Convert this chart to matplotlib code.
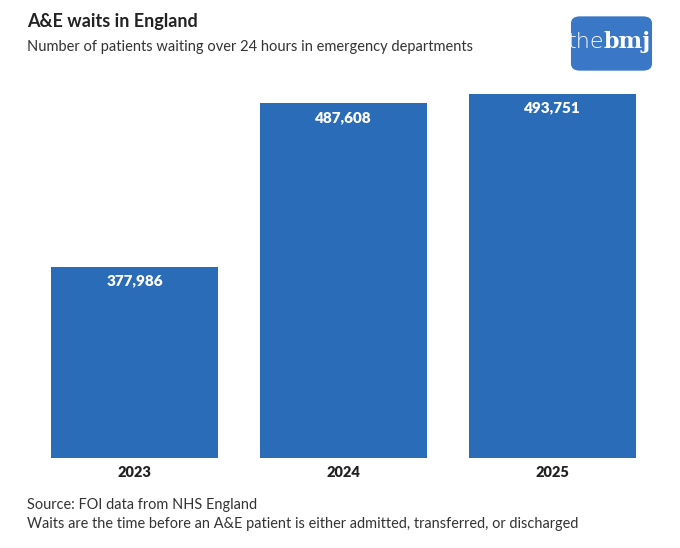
import matplotlib
matplotlib.use("Agg")
import matplotlib.pyplot as plt
from matplotlib.patches import FancyBboxPatch

years = ["2023", "2024", "2025"]
patients = [377986, 487608, 493751]

title = "A&E waits in England"
subtitle = "Number of patients waiting over 24 hours in emergency departments"
source = "Source: FOI data from NHS England"
note = "Waits are the time before an A&E patient is either admitted, transferred, or discharged"

bar_colour = "#2b6cb9"
logo_colour = "#3a77c6"

plt.rcParams["font.family"] = ["Lato", "DejaVu Sans"]

W, H = 680, 548
fig = plt.figure(figsize=(W / 100, H / 100), dpi=100)
fig.patch.set_facecolor("white")

# axes placed in pixel terms: x 30..657, y 85..458 (from top)
ax = fig.add_axes([30 / W, 1 - 458 / H, 627 / W, (458 - 85) / H])
x = range(len(years))
bars = ax.bar(x, patients, width=0.8, color=bar_colour)
ax.set_xlim(-0.5, len(years) - 0.5)
ax.set_ylim(250000, 500000)

for b, v in zip(bars, patients):
    ax.annotate(f"{v:,}", (b.get_x() + b.get_width() / 2, v),
                xytext=(0, -10), textcoords="offset points",
                ha="center", va="center", color="white",
                fontsize=11, fontweight="heavy")

ax.set_xticks(list(x))
ax.set_xticklabels(years, fontsize=10.5, fontweight="heavy", color="#222222")
ax.tick_params(axis="x", length=0, pad=6)
ax.set_yticks([])
for s in ax.spines.values():
    s.set_visible(False)

# header
fig.text(27 / W, 1 - 22 / H, title, fontsize=13, fontweight="bold",
         color="#222222", va="center", ha="left")
fig.text(27 / W, 1 - 47 / H, subtitle, fontsize=10.5,
         color="#333333", va="center", ha="left")

# footer
fig.text(27 / W, 1 - 505 / H, source, fontsize=10.45,
         color="#333333", va="center", ha="left")
fig.text(27 / W, 1 - 524 / H, note, fontsize=10.45,
         color="#333333", va="center", ha="left")

# logo
logo = FancyBboxPatch((573 / W, 1 - 69 / H), 77 / W, 51 / H,
                      boxstyle="round,pad=0.003,rounding_size=0.013",
                      transform=fig.transFigure, facecolor=logo_colour,
                      edgecolor="none")
fig.patches.append(logo)
fig.text(604 / W, 1 - 42 / H, "the", fontsize=16, color="white",
         ha="right", va="center", family="DejaVu Sans", fontweight="light")
fig.text(603 / W, 1 - 42 / H, "bmj", fontsize=16, color="white",
         ha="left", va="center", family="DejaVu Serif", fontweight="bold")

fig.savefig("out.png", dpi=100)
